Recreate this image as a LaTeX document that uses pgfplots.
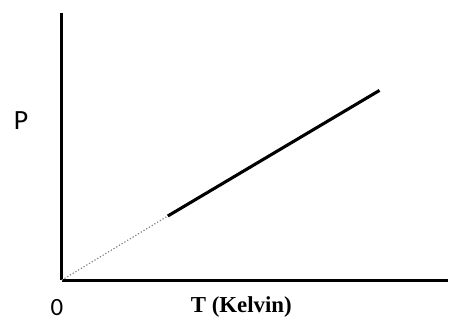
\documentclass[border=0pt]{standalone}
\usepackage{pgfplots}
\pgfplotsset{compat=1.18}
\usepackage{fontspec}
\setmainfont{Carlito}
\newfontfamily\timesfont{Liberation Serif}
\begin{document}
\begin{tikzpicture}
\begin{axis}[
  at={(0,0)}, anchor=origin,
  scale only axis,
  width=387bp, height=268bp,
  xmin=0, xmax=387, ymin=0, ymax=268,
  axis lines=left,
  axis line style={-, line width=2.8bp, black},
  xtick=\empty, ytick=\empty,
  clip=false,
]
\addplot[gray, line width=1.2bp, dotted] coordinates {(0,0) (106.3,64.3)};
\addplot[black, line width=3.1bp] coordinates {(106.3,64.3) (318.7,190.3)};
\node[font=\fontsize{28}{32}\selectfont] at (axis cs:-41,160) {P};
\node[font=\fontsize{25}{28}\selectfont, inner sep=0pt] at (axis cs:-5,-27) {0};
\node[font=\timesfont\bfseries\fontsize{23}{27}\selectfont] at (axis cs:180,-27) {T (Kelvin)};
\end{axis}
\path[use as bounding box] (-62bp,-39bp) rectangle (387bp,281bp);
\end{tikzpicture}
\end{document}
